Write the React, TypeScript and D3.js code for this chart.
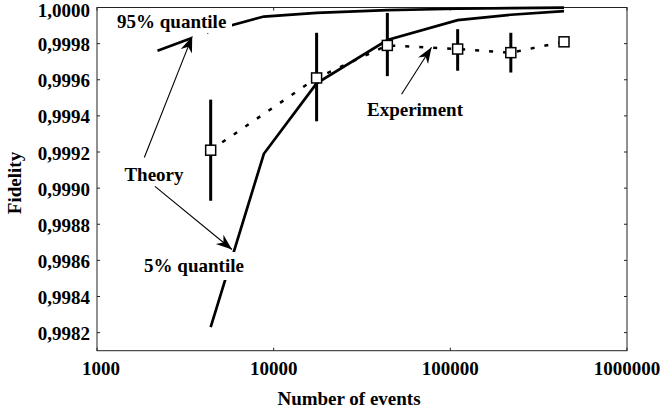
import React from "react";
import * as d3 from "d3";

// experiment: number of events, fidelity and error bar ends
const expEvents = [4400, 17500, 44000, 110000, 220000, 440000];
const expFidelity = [0.99921, 0.99961, 0.99979, 0.99977, 0.99975, 0.99981];
const expLow = [0.99893, 0.99937, 0.99962, 0.99965, 0.99964, null];
const expHigh = [0.99949, 0.99986, 0.99997, 0.99988, 0.99986, null];

// theory quantiles
const q95Events = [2200, 4400, 8800, 17500, 44000, 110000, 220000, 440000];
const q95Fidelity = [0.99976, 0.99987, 0.99995, 0.99997, 0.999985, 0.999993, 0.999997, 0.999999];
const q5Events = [4400, 8800, 17500, 44000, 110000, 220000, 440000];
const q5Fidelity = [0.99823, 0.99919, 0.99958, 0.99982, 0.99993, 0.99996, 0.99998];

const xTicks = [1000, 10000, 100000, 1000000];
const yTicks = d3.range(0, 10).map((i) => +(0.9982 + i * 0.0002).toFixed(4));

// annotation arrows, in data units: [fromN, fromF, toN, toF]
const arrows = [
  [1853, 0.99917, 3460, 0.99984],
  [2128, 0.99901, 5808, 0.99866],
  [52970, 0.99952, 78300, 0.99978],
];

const width = 661;
const height = 416;
const font = "'Liberation Serif', 'Times New Roman', serif";

export default function App() {
  const x = d3.scaleLog().domain([1000, 1000000]).range([97, 627]);
  const y = d3.scaleLinear().domain([0.9981, 1.0]).range([350.7, 7.5]);

  const line = d3
    .line<[number, number]>()
    .x((d) => x(d[0]))
    .y((d) => y(d[1]));

  const q95 = q95Events.map((n, i) => [n, q95Fidelity[i]] as [number, number]);
  const q5 = q5Events.map((n, i) => [n, q5Fidelity[i]] as [number, number]);
  const exp = expEvents.map((n, i) => [n, expFidelity[i]] as [number, number]);

  const x0 = x.range()[0];
  const x1 = x.range()[1];
  const yTop = y.range()[1];
  const yBot = y.range()[0];
  const tk = 3;

  return (
    <svg
      width={width}
      height={height}
      style={{ position: "absolute", left: 0, top: 0, background: "#fff" }}
      fontFamily={font}
      fontWeight="bold"
    >
      <defs>
        <marker
          id="head"
          markerUnits="userSpaceOnUse"
          markerWidth="20"
          markerHeight="14"
          refX="16"
          refY="6"
          orient="auto"
        >
          <path d="M16,6 L0,0 L5,6 L0,12 Z" fill="#000" />
        </marker>
      </defs>

      {/* frame */}
      <rect x={x0} y={yTop} width={x1 - x0} height={yBot - yTop} fill="none" stroke="#222" strokeWidth={1} />

      {/* y ticks */}
      {yTicks.map((t) => (
        <g key={t}>
          <line x1={x0} x2={x0 + tk} y1={y(t)} y2={y(t)} stroke="#222" />
          <line x1={x1} x2={x1 - tk} y1={y(t)} y2={y(t)} stroke="#222" />
          <text x={90} y={Math.max(y(t) + 7.5, 17)} textAnchor="end" fontSize={19}>
            {t.toFixed(4).replace(".", ",")}
          </text>
        </g>
      ))}

      {/* x ticks */}
      {xTicks.map((t, i) => (
        <g key={t}>
          <line x1={x(t)} x2={x(t)} y1={yBot} y2={yBot - tk} stroke="#222" />
          <line x1={x(t)} x2={x(t)} y1={yTop} y2={yTop + tk} stroke="#222" />
          <text x={x(t) + (i === 0 ? 4 : 0)} y={375} textAnchor="middle" fontSize={19}>
            {t}
          </text>
        </g>
      ))}

      {/* axis titles */}
      <text x={349} y={405} textAnchor="middle" fontSize={19}>
        Number of events
      </text>
      <text transform="translate(21,183) rotate(-90)" textAnchor="middle" fontSize={19}>
        Fidelity
      </text>

      {/* theory curves */}
      <path d={line(q95) ?? ""} fill="none" stroke="#000" strokeWidth={2.7} />
      <path d={line(q5) ?? ""} fill="none" stroke="#000" strokeWidth={2.7} />

      {/* experiment */}
      <path d={line(exp) ?? ""} fill="none" stroke="#000" strokeWidth={2.5} strokeDasharray="4 10" />
      {expEvents.map((n, i) =>
        expLow[i] == null ? null : (
          <line
            key={"e" + n}
            x1={x(n)}
            x2={x(n)}
            y1={y(expLow[i] as number)}
            y2={y(expHigh[i] as number)}
            stroke="#000"
            strokeWidth={3}
          />
        )
      )}
      {expEvents.map((n, i) => (
        <rect
          key={"s" + n}
          x={x(n) - 5}
          y={y(expFidelity[i]) - 5}
          width={10}
          height={10}
          fill="#fff"
          stroke="#000"
          strokeWidth={1.5}
        />
      ))}

      {/* label backgrounds */}
      <rect x={112} y={11} width={120} height={22} fill="#fff" />
      <rect x={191} y={30} width={16} height={11} fill="#fff" />
      <rect x={138} y={252} width={112} height={28} fill="#fff" />

      {/* annotations */}
      {arrows.map((a, i) => (
        <line
          key={"a" + i}
          x1={x(a[0])}
          y1={y(a[1])}
          x2={x(a[2])}
          y2={y(a[3])}
          stroke="#000"
          strokeWidth={1.1}
          markerEnd="url(#head)"
        />
      ))}
      <text x={171.7} y={28} textAnchor="middle" fontSize={19}>
        95% quantile
      </text>
      <text x={154} y={181} textAnchor="middle" fontSize={19}>
        Theory
      </text>
      <text x={194} y={272} textAnchor="middle" fontSize={19}>
        5% quantile
      </text>
      <text x={415} y={116} textAnchor="middle" fontSize={19}>
        Experiment
      </text>
    </svg>
  );
}
